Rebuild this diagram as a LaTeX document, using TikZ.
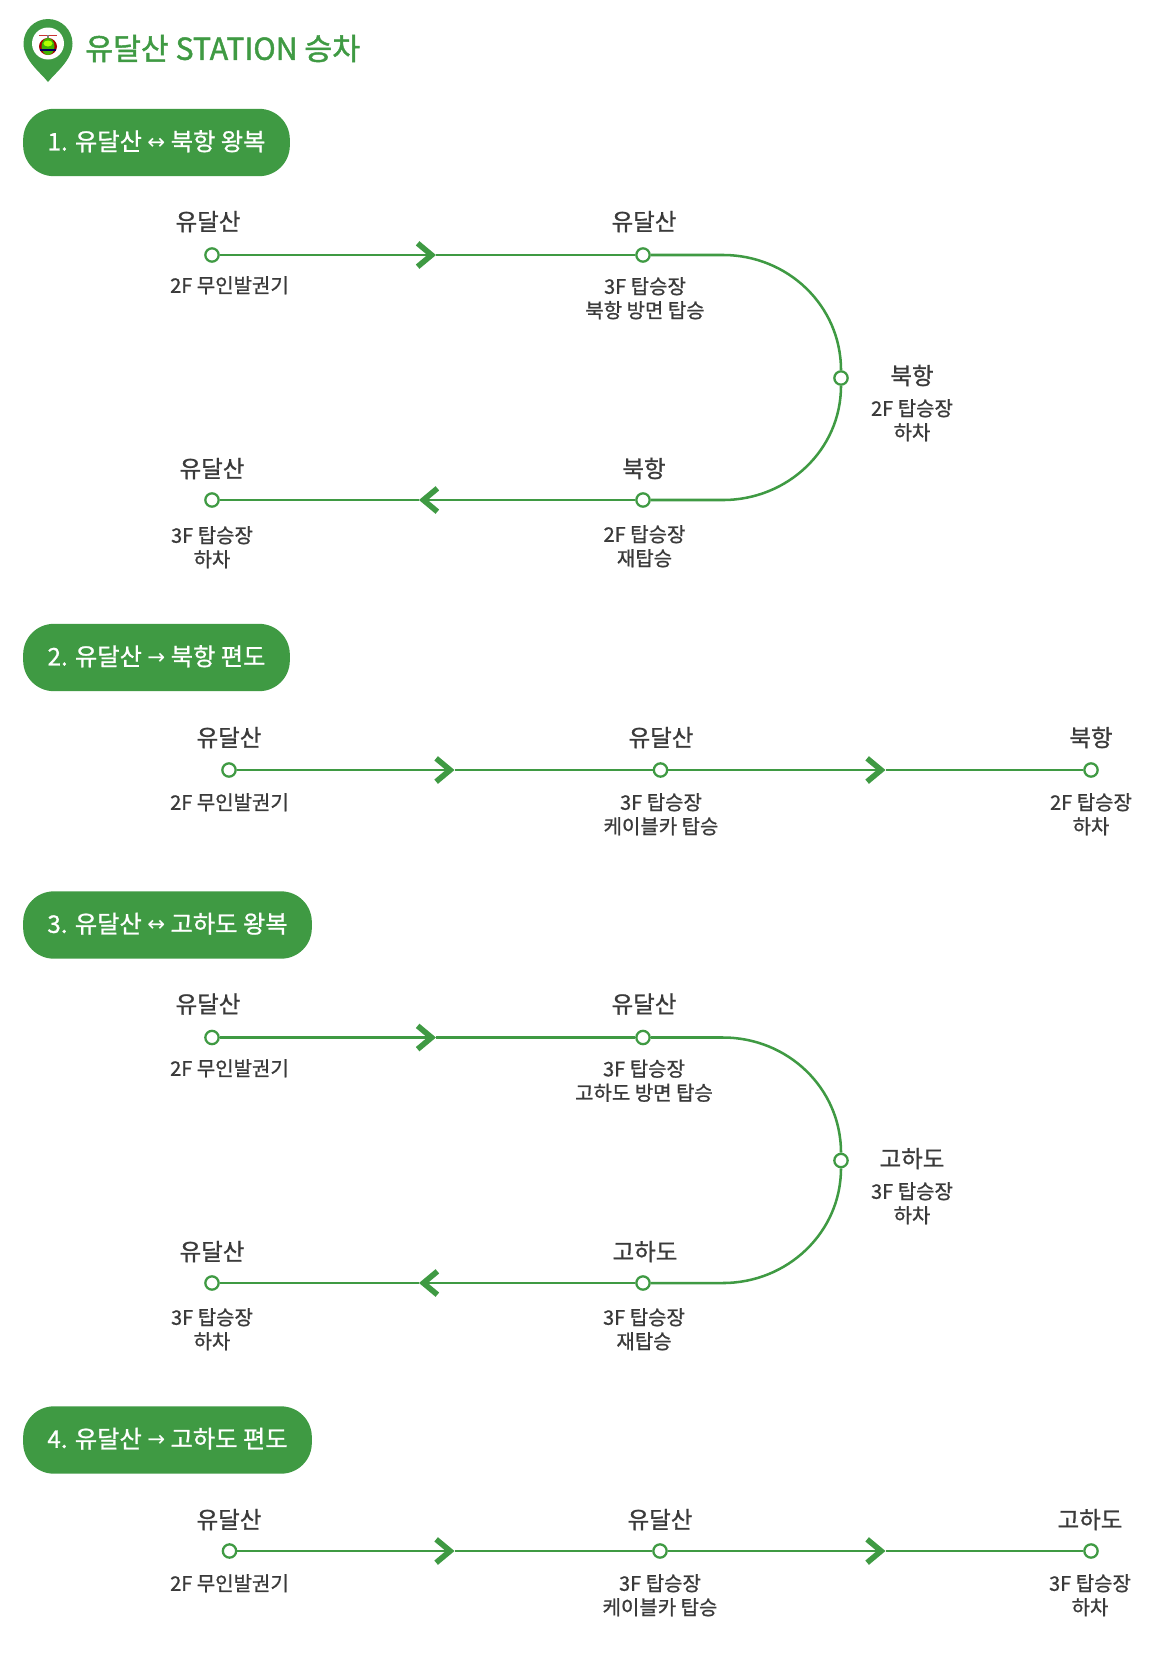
\documentclass[tikz,border=0pt]{standalone}
\usepackage{fontspec}
\setmainfont[FakeBold=0.9]{Noto Sans CJK KR}
\newfontfamily\titlefont[FakeBold=1.5]{Noto Sans CJK KR}
\newfontfamily\arrowfont{DejaVu Sans}
\usetikzlibrary{arrows.meta}
\definecolor{routegreen}{HTML}{3F9A43}
\definecolor{labelgray}{HTML}{3A3A3A}
\tikzset{
  stopdot/.style={circle, draw=routegreen, fill=white, line width=1.7pt, inner sep=0pt, minimum size=10pt},
  stopname/.style={text=labelgray, font=\fontsize{17.6}{20}\selectfont, inner sep=0pt, yshift=-0.4pt},
  stopnote/.style={text=labelgray, align=center, font=\fontsize{15}{18}\selectfont, inner sep=0pt, yshift=-0.2pt},
  routepill/.style={fill=routegreen, text=white, rounded corners=23pt, minimum height=50.5pt, inner sep=0pt, font=\fontsize{18.2}{22}\selectfont},
  routeline/.style={draw=routegreen, line width=1.9pt},
  chevronline/.style={routeline, -{Straight Barb[length=10.5pt, width=17.5pt, line width=4.2pt]}}
}
\newcommand{\twoway}{\raisebox{1pt}{\arrowfont\fontsize{16}{16}\selectfont ↔}}
\newcommand{\oneway}{\raisebox{1pt}{\arrowfont\fontsize{16}{16}\selectfont →}}
\begin{document}
\begin{tikzpicture}[x=0.75pt, y=0.75pt]
  \useasboundingbox (0,0) rectangle (1175,-1667);
  % title with the pin
  \fill[routegreen] (48,-82) .. controls (40,-72) and (23.5,-60) .. (23.5,-43.5) arc[start angle=180, end angle=0, radius=24.5] .. controls (72.5,-60) and (56,-72) .. (48,-82) -- cycle;
  \fill[white] (48,-43.5) circle (16);
  \fill[red!60!gray] (39,-34.5) rectangle (57,-35.3);
  \fill[gray] (47,-35) rectangle (49,-38);
  \fill[red!65!black] (48,-46.5) ellipse (9 and 8.5);
  \fill[green!60!black!75!yellow] (48,-46.5) ellipse (6.5 and 8.5);
  \fill[green!30!yellow] (48,-43.5) ellipse (4.5 and 3);
  \fill[black!65!blue] (40,-49) rectangle (56,-51);
  \node[anchor=west, text=routegreen, inner sep=0pt, font=\titlefont\fontsize{22.7}{28}\selectfont] (title) at (85,-48.5) {유달산 STATION 승차};

  % 1
  \node[routepill, minimum width=200pt] (pillA) at (156.5,-142.5) {\raisebox{3.3pt}{1. 유달산 \twoway{} 북항 왕복}};
  \node[stopdot] (a1) at (212,-255) {};
  \node[stopdot] (a2) at (643,-255) {};
  \node[stopdot] (a3) at (841,-378) {};
  \node[stopdot] (a4) at (643,-500) {};
  \node[stopdot] (a5) at (212,-500) {};
  \coordinate (chevA1) at (436,-255);
  \coordinate (chevA2) at (419,-500);
  \coordinate (bendA1) at (723,-255);
  \coordinate (bendA2) at (723,-500);
  \draw[chevronline] (a1) -- (chevA1);
  \draw[routeline] (chevA1) -- (a2);
  \draw[routeline] (a2) -- (bendA1) to[out=0, in=90] (a3);
  \draw[routeline] (a3) to[out=-90, in=0] (bendA2) -- (a4);
  \draw[chevronline] (a4) -- (chevA2);
  \draw[routeline] (chevA2) -- (a5);
  \node[stopname] (nameA1) at (208,-221) {유달산};
  \node[stopnote] (noteA1) at (229.5,-285) {2F 무인발권기};
  \node[stopname] (nameA2) at (644,-221) {유달산};
  \node[stopnote] (noteA2) at (645,-298) {3F 탑승장\\북항 방면 탑승};
  \node[stopname] (nameA3) at (912,-375) {북항};
  \node[stopnote] (noteA3) at (912,-420) {2F 탑승장\\하차};
  \node[stopname] (nameA4) at (644,-468) {북항};
  \node[stopnote] (noteA4) at (644.5,-546) {2F 탑승장\\재탑승};
  \node[stopname] (nameA5) at (212,-468) {유달산};
  \node[stopnote] (noteA5) at (212,-547) {3F 탑승장\\하차};

  % 2
  \node[routepill, minimum width=200pt] (pillB) at (156.5,-657.5) {\raisebox{3.3pt}{2. 유달산 \oneway{} 북항 편도}};
  \node[stopdot] (b1) at (229,-770) {};
  \node[stopdot] (b2) at (660.5,-770) {};
  \node[stopdot] (b3) at (1091,-770) {};
  \coordinate (chevB1) at (454.5,-770);
  \coordinate (chevB2) at (885.5,-770);
  \draw[chevronline] (b1) -- (chevB1);
  \draw[routeline] (chevB1) -- (b2);
  \draw[chevronline] (b2) -- (chevB2);
  \draw[routeline] (chevB2) -- (b3);
  \node[stopname] (nameB1) at (229,-737) {유달산};
  \node[stopnote] (noteB1) at (229.5,-802) {2F 무인발권기};
  \node[stopname] (nameB2) at (661,-737) {유달산};
  \node[stopnote] (noteB2) at (661,-814) {3F 탑승장\\케이블카 탑승};
  \node[stopname] (nameB3) at (1091,-737) {북항};
  \node[stopnote] (noteB3) at (1091,-814) {2F 탑승장\\하차};

  % 3
  \node[routepill, minimum width=216.5pt] (pillC) at (167.5,-925) {\raisebox{3.3pt}{3. 유달산 \twoway{} 고하도 왕복}};
  \node[stopdot] (c1) at (212,-1037.5) {};
  \node[stopdot] (c2) at (643,-1037.5) {};
  \node[stopdot] (c3) at (841,-1160.5) {};
  \node[stopdot] (c4) at (643,-1283) {};
  \node[stopdot] (c5) at (212,-1283) {};
  \coordinate (chevC1) at (436,-1037.5);
  \coordinate (chevC2) at (419,-1283);
  \coordinate (bendC1) at (723,-1037.5);
  \coordinate (bendC2) at (723,-1283);
  \draw[chevronline] (c1) -- (chevC1);
  \draw[routeline] (chevC1) -- (c2);
  \draw[routeline] (c2) -- (bendC1) to[out=0, in=90] (c3);
  \draw[routeline] (c3) to[out=-90, in=0] (bendC2) -- (c4);
  \draw[chevronline] (c4) -- (chevC2);
  \draw[routeline] (chevC2) -- (c5);
  \node[stopname] (nameC1) at (208,-1003.5) {유달산};
  \node[stopnote] (noteC1) at (229.5,-1068) {2F 무인발권기};
  \node[stopname] (nameC2) at (644,-1003.5) {유달산};
  \node[stopnote] (noteC2) at (644,-1080.5) {3F 탑승장\\고하도 방면 탑승};
  \node[stopname] (nameC3) at (912,-1158) {고하도};
  \node[stopnote] (noteC3) at (912,-1203) {3F 탑승장\\하차};
  \node[stopname] (nameC4) at (645,-1251) {고하도};
  \node[stopnote] (noteC4) at (644,-1329) {3F 탑승장\\재탑승};
  \node[stopname] (nameC5) at (212,-1251) {유달산};
  \node[stopnote] (noteC5) at (212,-1329) {3F 탑승장\\하차};

  % 4
  \node[routepill, minimum width=216.5pt] (pillD) at (167.5,-1440) {\raisebox{3.3pt}{4. 유달산 \oneway{} 고하도 편도}};
  \node[stopdot] (d1) at (229.5,-1551) {};
  \node[stopdot] (d2) at (660,-1551) {};
  \node[stopdot] (d3) at (1091,-1551) {};
  \coordinate (chevD1) at (454.5,-1551);
  \coordinate (chevD2) at (885.5,-1551);
  \draw[chevronline] (d1) -- (chevD1);
  \draw[routeline] (chevD1) -- (d2);
  \draw[chevronline] (d2) -- (chevD2);
  \draw[routeline] (chevD2) -- (d3);
  \node[stopname] (nameD1) at (229,-1519) {유달산};
  \node[stopnote] (noteD1) at (229.5,-1583) {2F 무인발권기};
  \node[stopname] (nameD2) at (660,-1519) {유달산};
  \node[stopnote] (noteD2) at (660,-1595) {3F 탑승장\\케이블카 탑승};
  \node[stopname] (nameD3) at (1090,-1519) {고하도};
  \node[stopnote] (noteD3) at (1090,-1595) {3F 탑승장\\하차};
\end{tikzpicture}
\end{document}
